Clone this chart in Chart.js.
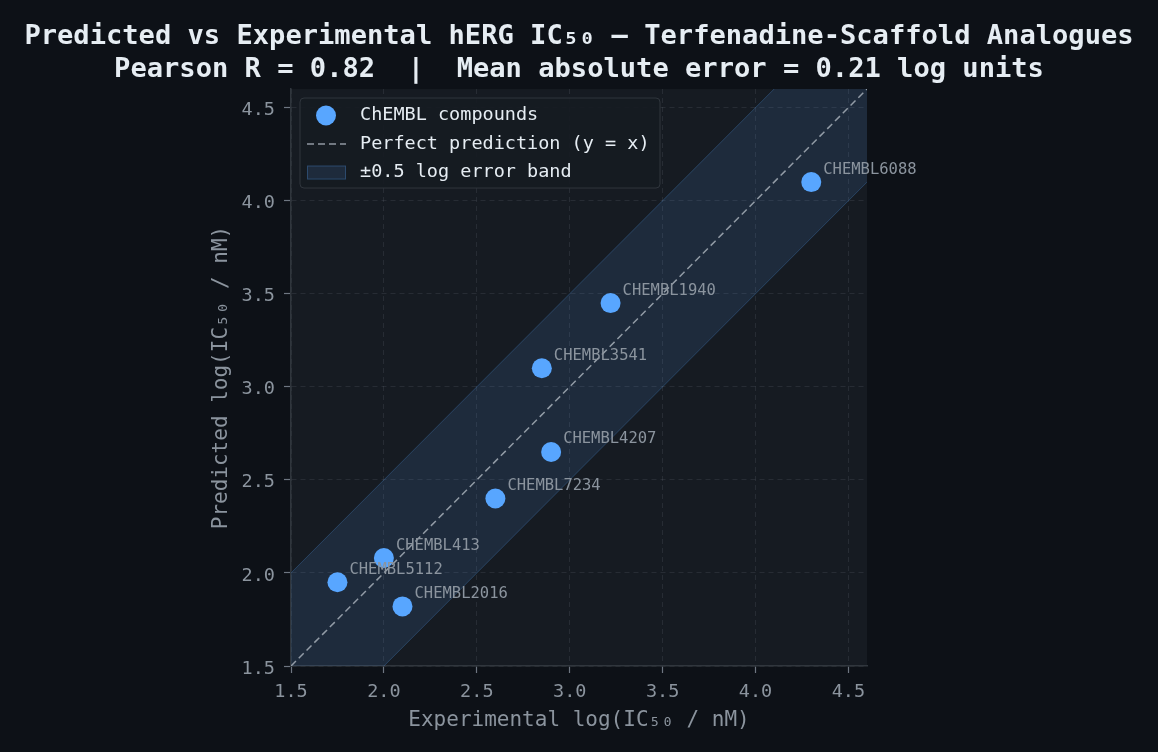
<!DOCTYPE html>
<html>
<head>
<meta charset="utf-8">
<title>hERG IC50 prediction</title>
<script src="https://cdn.jsdelivr.net/npm/chart.js@4/dist/chart.umd.min.js"></script>
<style>
    body { margin: 0; background: #0d1117; }
    canvas { display: block; }
</style>
</head>
<body>
<canvas id="parityChart" width="1158" height="752"></canvas>
<script>
// hERG parity plot - predicted vs experimental log(IC50)

// ============================================================
// DATA
// ============================================================
const compoundNames = ['CHEMBL5112', 'CHEMBL413', 'CHEMBL2016', 'CHEMBL7234', 'CHEMBL4207', 'CHEMBL3541', 'CHEMBL1940', 'CHEMBL6088'];
const experimentalLog = [1.75, 2.00, 2.10, 2.60, 2.90, 2.85, 3.22, 4.30];
const predictedLog = [1.95, 2.08, 1.82, 2.40, 2.65, 3.10, 3.45, 4.10];

// y = x reference line and the +/-0.5 log band (end points only)
const refX = [1.5, 4.6];
const refY = [1.5, 4.6];
const bandLower = [1.0, 4.1];
const bandUpper = [2.0, 5.1];

const axisMin = 1.5;
const axisMax = 4.6;
const tickStep = 0.5;

const titleLines = [
    'Predicted vs Experimental hERG IC₅₀ — Terfenadine-Scaffold Analogues',
    'Pearson R = 0.82  |  Mean absolute error = 0.21 log units'
];

// ============================================================
// STYLE
// ============================================================
const mono = "'DejaVu Sans Mono', monospace";
const colors = {
    page: '#0d1117',
    plot: '#161b22',
    point: '#58a6ff',
    text: '#e6edf3',
    muted: '#8b949e',
    grid: 'rgba(139, 148, 158, 0.15)',
    spine: '#30363d',
    tick: '#6e7681',
    bandFill: 'rgba(88, 166, 255, 0.12)',
    bandEdge: 'rgba(88, 166, 255, 0.25)',
    refLine: 'rgba(175, 184, 193, 0.8)'
};

const toPoints = (xs, ys) => xs.map((x, i) => ({ x: x, y: ys[i] }));

// ============================================================
// PLUGINS
// ============================================================
const backgroundPlugin = {
    id: 'backgroundPlugin',
    beforeDraw(chart) {
        const { ctx, chartArea: a } = chart;
        ctx.save();
        ctx.fillStyle = colors.page;
        ctx.fillRect(0, 0, chart.width, chart.height);
        ctx.fillStyle = colors.plot;
        ctx.fillRect(a.left, a.top, a.right - a.left, a.bottom - a.top);
        ctx.restore();
    }
};

// compound names next to each marker
const pointLabelPlugin = {
    id: 'pointLabelPlugin',
    afterDatasetsDraw(chart) {
        const { ctx } = chart;
        const meta = chart.getDatasetMeta(0);
        ctx.save();
        ctx.font = '15.5px ' + mono;
        ctx.fillStyle = colors.muted;
        ctx.textAlign = 'left';
        ctx.textBaseline = 'middle';
        meta.data.forEach((pt, i) => {
            ctx.fillText(compoundNames[i], pt.x + 12, pt.y - 12.5);
        });
        ctx.restore();
    }
};

// boxed legend in the upper left of the plot
const boxLegendPlugin = {
    id: 'boxLegendPlugin',
    afterDraw(chart) {
        const { ctx, chartArea: a } = chart;
        const ds = chart.data.datasets;
        const left = a.left + 9, top = a.top + 9, w = 360, h = 90;
        const rowY = [top + 17.5, top + 46, top + 74.5];
        const symX = left + 7, symW = 39, textX = left + 60;

        ctx.save();
        ctx.beginPath();
        ctx.roundRect(left, top, w, h, 4);
        ctx.fillStyle = 'rgba(22, 27, 34, 0.92)';
        ctx.fill();
        ctx.strokeStyle = colors.spine;
        ctx.lineWidth = 1;
        ctx.stroke();

        // marker
        ctx.beginPath();
        ctx.arc(left + 26, rowY[0], 10, 0, Math.PI * 2);
        ctx.fillStyle = colors.point;
        ctx.fill();

        // dashed line
        ctx.beginPath();
        ctx.setLineDash([7, 4]);
        ctx.moveTo(symX, rowY[1]);
        ctx.lineTo(symX + symW, rowY[1]);
        ctx.strokeStyle = colors.refLine;
        ctx.lineWidth = 1.5;
        ctx.stroke();
        ctx.setLineDash([]);

        // band patch
        ctx.fillStyle = colors.plot;
        ctx.fillRect(symX, rowY[2] - 7, symW, 14);
        ctx.fillStyle = colors.bandFill;
        ctx.fillRect(symX, rowY[2] - 7, symW, 14);
        ctx.strokeStyle = colors.bandEdge;
        ctx.lineWidth = 1;
        ctx.strokeRect(symX + 0.5, rowY[2] - 6.5, symW - 1, 13);

        ctx.font = '18.5px ' + mono;
        ctx.fillStyle = colors.text;
        ctx.textBaseline = 'middle';
        ctx.fillText(ds[0].label, textX, rowY[0]);
        ctx.fillText(ds[1].label, textX, rowY[1]);
        ctx.fillText(ds[3].label, textX, rowY[2]);
        ctx.restore();
    }
};

// ============================================================
// CHART
// ============================================================
function axisOptions(titleText, isY) {
    return {
        type: 'linear',
        min: axisMin,
        max: axisMax,
        afterFit(scale) {
            if (isY) scale.width = 291;
            else scale.height = 86;
        },
        ticks: {
            stepSize: tickStep,
            includeBounds: false,
            padding: isY ? 9 : 8,
            color: colors.muted,
            // y labels get an empty first line so they sit a touch lower, like the figure
            font: isY ? { family: mono, size: 18.5, lineHeight: 0.3 } : { family: mono, size: 18.5 },
            callback: v => isY ? ['', v.toFixed(1)] : v.toFixed(1)
        },
        grid: {
            color: colors.grid,
            lineWidth: 1,
            drawTicks: true,
            tickLength: 7,
            tickColor: colors.tick,
            tickWidth: 1.2
        },
        border: {
            display: true,
            color: colors.spine,
            width: 1.5,
            dash: [5, 4]
        },
        title: {
            display: true,
            text: titleText,
            color: colors.muted,
            font: { family: mono, size: 21 },
            padding: isY ? { top: 209, bottom: 0 } : { top: 0, bottom: 19 }
        }
    };
}

new Chart(document.getElementById('parityChart'), {
    type: 'scatter',
    data: {
        datasets: [
            {
                label: 'ChEMBL compounds',
                data: toPoints(experimentalLog, predictedLog),
                backgroundColor: colors.point,
                borderWidth: 0,
                pointRadius: 10,
                pointHoverRadius: 10,
                order: 0
            },
            {
                label: 'Perfect prediction (y = x)',
                type: 'line',
                data: toPoints(refX, refY),
                borderColor: colors.refLine,
                borderWidth: 1.5,
                borderDash: [7, 4],
                pointRadius: 0,
                fill: false,
                order: 1
            },
            {
                label: 'band lower',
                type: 'line',
                data: toPoints(refX, bandLower),
                borderColor: colors.bandEdge,
                borderWidth: 1,
                pointRadius: 0,
                fill: false,
                order: 3
            },
            {
                label: '±0.5 log error band',
                type: 'line',
                data: toPoints(refX, bandUpper),
                borderColor: colors.bandEdge,
                borderWidth: 1,
                backgroundColor: colors.bandFill,
                pointRadius: 0,
                fill: '-1',
                order: 2
            }
        ]
    },
    options: {
        responsive: false,
        animation: false,
        layout: { padding: 0 },
        plugins: {
            legend: { display: false },
            tooltip: { enabled: false },
            title: {
                display: true,
                text: titleLines,
                color: colors.text,
                font: { family: mono, size: 27.1, weight: 'bold', lineHeight: 1.2 },
                padding: { top: 21, bottom: 3 }
            }
        },
        scales: {
            x: axisOptions('Experimental log(IC₅₀ / nM)', false),
            y: axisOptions('Predicted log(IC₅₀ / nM)', true),
            // empty right-hand axis keeps the plot square, as in the figure
            yRight: {
                position: 'right',
                min: axisMin,
                max: axisMax,
                afterFit(scale) { scale.width = 291; },
                ticks: { display: false },
                grid: { display: false },
                border: { display: false }
            }
        }
    },
    plugins: [backgroundPlugin, pointLabelPlugin, boxLegendPlugin]
});
</script>
</body>
</html>
